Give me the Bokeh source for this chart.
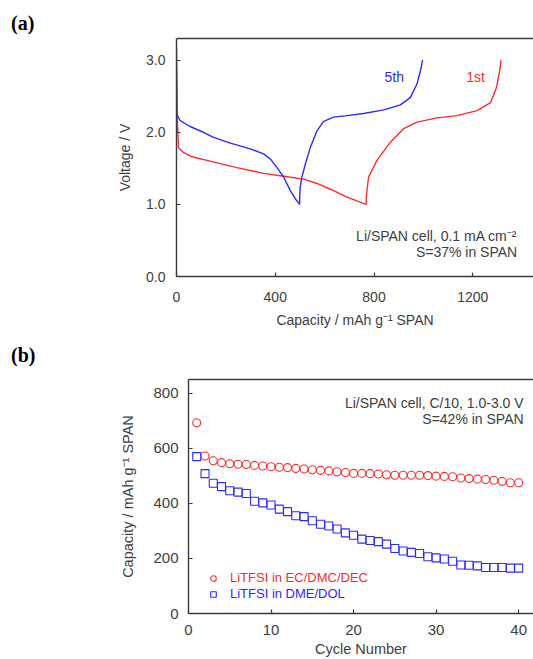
from bokeh.plotting import figure
from bokeh.models import (Label, Legend, LegendItem, LinearAxis, FixedTicker,
                          Range1d, NumeralTickFormatter, Div)
from bokeh.layouts import column, row
from bokeh.embed import file_html
from bokeh.resources import INLINE

# ---------------- data: panel (a) voltage profiles ----------------
cap_5th = [0, 1, 15, 55, 109, 150, 218, 299, 353, 380, 407, 434, 461, 485, 499,
           499, 501, 508, 522, 542, 569, 596, 636, 691, 758, 839, 907, 947, 974, 988, 997]
volt_5th = [2.85, 2.25, 2.16, 2.08, 2.00, 1.93, 1.85, 1.77, 1.70, 1.63, 1.51, 1.38, 1.19, 1.06, 1.00,
            1.08, 1.24, 1.38, 1.56, 1.79, 2.02, 2.15, 2.21, 2.23, 2.26, 2.31, 2.38, 2.48, 2.67, 2.85, 3.00]
cap_1st = [0, 3, 8, 28, 62, 136, 245, 353, 434, 515, 569, 623, 691, 768,
           769, 778, 812, 866, 920, 974, 1055, 1136, 1218, 1272, 1296, 1309, 1315]
volt_1st = [3.18, 2.20, 1.79, 1.72, 1.66, 1.60, 1.51, 1.43, 1.39, 1.35, 1.29, 1.21, 1.10, 1.00,
            1.12, 1.38, 1.61, 1.86, 2.05, 2.14, 2.20, 2.23, 2.30, 2.41, 2.62, 2.85, 3.00]
xticks_a = [0, 400, 800, 1200]
yticks_a = [0.0, 1.0, 2.0, 3.0]

# ---------------- data: panel (b) cycling ----------------
cycles = list(range(1, 41))
cap_carbonate = [693, 572, 555, 548, 544, 542, 541, 538, 536, 533,
                 531, 530, 527, 525, 522, 520, 518, 515, 512, 509,
                 509, 508, 507, 504, 502, 502, 502, 502, 501, 499,
                 498, 497, 492, 490, 488, 487, 484, 480, 475, 475]
cap_ether = [570, 508, 473, 461, 446, 441, 436, 408, 402, 394,
             379, 370, 355, 352, 337, 324, 318, 307, 293, 284,
             270, 265, 261, 252, 236, 227, 222, 218, 206, 202,
             198, 190, 176, 175, 173, 167, 167, 167, 165, 165]
xticks_b = [0, 10, 20, 30, 40]
yticks_b = [0, 200, 400, 600, 800]

FONT = "Liberation Sans"
TXT = "#404040"
AX = "#3a3a3a"
RED = "#ff2b2b"
BLUE = "#2b2bff"


def panel_tag(text, height, pad_top):
    html = ('<div style="margin:0;padding:%dpx 0 0 11px;font-family:\'Liberation Serif\',serif;'
            'font-weight:bold;font-size:20px;line-height:20px;color:#000;">%s</div>' % (pad_top, text))
    return Div(text=html, width=533, height=height, margin=0)


def style_axes(p, ticks_x, ticks_y, fs_tick, fs_title, xstd, xlstd, ystd, ylstd):
    p.outline_line_color = None
    p.grid.visible = False
    for ax in p.xaxis + p.yaxis:
        ax.axis_line_color = AX
        ax.axis_line_width = 1.4
        ax.major_tick_line_color = AX
        ax.major_tick_line_width = 1.2
        ax.major_tick_in = 4
        ax.major_tick_out = 0
        ax.minor_tick_line_color = None
        ax.major_label_text_font = FONT
        ax.major_label_text_font_size = fs_tick
        ax.major_label_text_color = TXT
        ax.axis_label_text_font = FONT
        ax.axis_label_text_font_size = fs_title
        ax.axis_label_text_font_style = "normal"
        ax.axis_label_text_color = TXT
    p.xaxis.ticker = FixedTicker(ticks=ticks_x)
    p.yaxis.ticker = FixedTicker(ticks=ticks_y)
    p.xaxis.major_label_standoff = xstd
    p.xaxis.axis_label_standoff = xlstd
    p.yaxis.major_label_standoff = ystd
    p.yaxis.axis_label_standoff = ylstd
    top = LinearAxis(ticker=FixedTicker(ticks=[]), axis_line_color=AX, axis_line_width=1.4,
                     major_label_text_font_size="0px", major_label_standoff=0,
                     minor_tick_line_color=None, major_tick_line_color=None,
                     major_tick_in=0, major_tick_out=0)
    p.add_layout(top, "above")


# ---------------- panel (a) ----------------
pa = figure(width=533, height=304, x_range=Range1d(0, 1446), y_range=Range1d(0, 3.3),
            output_backend="svg", toolbar_location=None,
            min_border_left=176, min_border_right=0, min_border_top=2, min_border_bottom=64,
            x_axis_label="Capacity / mAh g\u207b\u00b9 SPAN", y_axis_label="Voltage / V")
style_axes(pa, xticks_a, yticks_a, "14px", "14px", 15, 7, 11, 10)
pa.yaxis.formatter = NumeralTickFormatter(format="0.0")

pa.line(cap_1st, volt_1st, line_color=RED, line_width=1.4)
pa.line(cap_5th, volt_5th, line_color=BLUE, line_width=1.4)

pa.add_layout(Label(x=882, y=2.77, text="5th", text_font=FONT, text_font_size="14px",
                    text_color=BLUE, text_align="center", text_baseline="middle"))
pa.add_layout(Label(x=1211, y=2.77, text="1st", text_font=FONT, text_font_size="14px",
                    text_color=RED, text_align="center", text_baseline="middle"))
pa.add_layout(Label(x=1380, y=0.568, text="Li/SPAN cell, 0.1 mA cm\u207b\u00b2", text_font=FONT,
                    text_font_size="14px", text_color=TXT, text_align="right", text_baseline="middle"))
pa.add_layout(Label(x=1380, y=0.337, text="S=37% in SPAN", text_font=FONT,
                    text_font_size="14px", text_color=TXT, text_align="right", text_baseline="middle"))

# ---------------- panel (b) ----------------
pb = figure(width=533, height=289, x_range=Range1d(0, 41.8), y_range=Range1d(0, 850),
            output_backend="svg", toolbar_location=None,
            min_border_left=188, min_border_right=0, min_border_top=9, min_border_bottom=46,
            x_axis_label="Cycle Number", y_axis_label="Capacity / mAh g\u207b\u00b9 SPAN")
style_axes(pb, xticks_b, yticks_b, "15px", "14.5px", 11, 3, 10, 14)

r_red = pb.scatter(cycles, cap_carbonate, marker="circle", size=8, fill_color=None,
                   line_color=RED, line_width=1.1)
r_blue = pb.scatter(cycles, cap_ether, marker="square", size=8, fill_color=None,
                    line_color=BLUE, line_width=1.1)

for item_label, rend, col, loc in [("LiTFSI in EC/DMC/DEC", r_red, RED, (18, 28)),
                                   ("LiTFSI in DME/DOL", r_blue, BLUE, (18, 12))]:
    lg = Legend(items=[LegendItem(label=item_label, renderers=[rend])], location=loc,
                padding=0, margin=0, spacing=0, glyph_width=14, glyph_height=14,
                label_height=14, label_standoff=10, label_text_font=FONT,
                label_text_font_size="13px", label_text_color=col,
                border_line_color=None, background_fill_alpha=0)
    pb.add_layout(lg)

pb.add_layout(Label(x=40.6, y=763, text="Li/SPAN cell, C/10, 1.0-3.0 V", text_font=FONT,
                    text_font_size="14px", text_color=TXT, text_align="right", text_baseline="middle"))
pb.add_layout(Label(x=40.6, y=705, text="S=42% in SPAN", text_font=FONT,
                    text_font_size="14px", text_color=TXT, text_align="right", text_baseline="middle"))

p = column(panel_tag("(a)", 36, 13), row(pa), panel_tag("(b)", 30, 5), row(pb))
open("out.html", "w").write(file_html(p, INLINE))
